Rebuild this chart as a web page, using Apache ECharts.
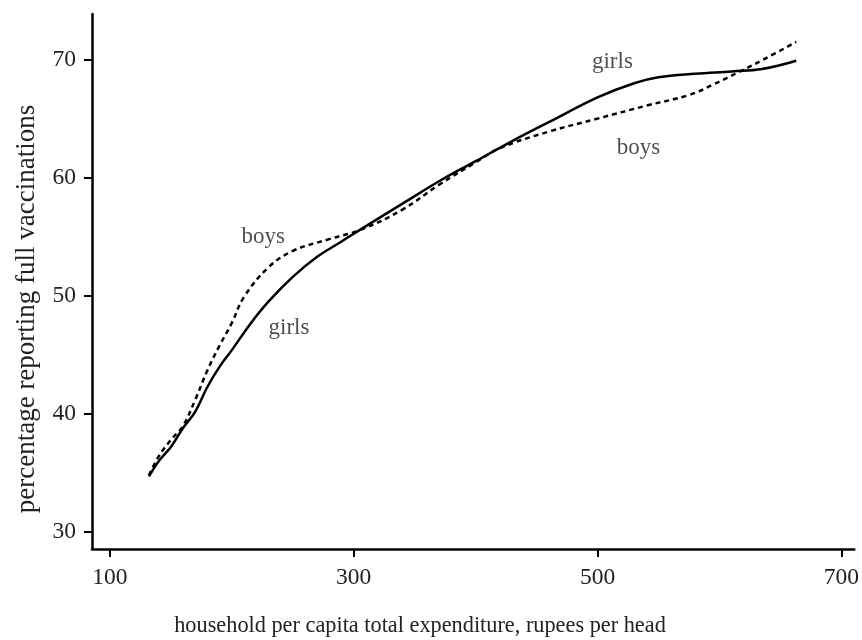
<!DOCTYPE html>
<html>
<head>
<meta charset="utf-8">
<script src="https://cdn.jsdelivr.net/npm/echarts@6/dist/echarts.min.js"></script>
<style>
html,body{margin:0;padding:0;background:#fff;}
#chart{width:862px;height:640px;}
</style>
</head>
<body>
<div id="chart"></div>
<script>
// Data
var girlsX = [132, 140, 150, 160, 170, 180, 190, 200, 215, 230, 250, 270, 290, 310, 340, 370, 400, 430, 460, 500, 530, 550, 580, 610, 635, 663];
var girlsY = [34.7, 36.0, 37.2, 38.8, 40.2, 42.3, 44.0, 45.4, 47.6, 49.5, 51.6, 53.3, 54.6, 55.9, 57.8, 59.7, 61.4, 63.1, 64.7, 66.8, 68.0, 68.5, 68.8, 69.0, 69.2, 69.9];
var boysX = [132, 140, 150, 160, 170, 180, 190, 200, 210, 230, 250, 280, 306, 340, 370, 400, 420, 460, 500, 540, 575, 595, 615, 636, 663];
var boysY = [34.8, 36.4, 37.8, 39.0, 41.2, 43.7, 45.8, 47.7, 49.9, 52.4, 53.8, 54.8, 55.6, 57.3, 59.4, 61.3, 62.5, 63.9, 65.0, 66.1, 67.0, 67.9, 68.9, 70.0, 71.5];
var xTicks = [100, 300, 500, 700];
var yTicks = [30, 40, 50, 60, 70];
var labelNames = ['boys', 'girls', 'girls', 'boys'];
var labelX = [225.7, 246.9, 512.2, 533.5];
var labelY = [55.0, 47.3, 69.8, 62.5];
var xTitle = 'household per capita total expenditure, rupees per head';
var yTitle = 'percentage reporting full vaccinations';

function zip(xs, ys) { return xs.map(function (x, i) { return [x, ys[i]]; }); }

var FONT = '"Liberation Serif", "DejaVu Serif", serif';
var TXT = '#222';

var chart = echarts.init(document.getElementById('chart'), null, {renderer: 'canvas'});
chart.setOption({
  backgroundColor: '#fff',
  animation: false,
  grid: {left: 92, right: 4, top: 14, bottom: 91, containLabel: false},
  xAxis: {
    type: 'value', min: 85.3, max: 710.6,
    splitLine: {show: false},
    axisLine: {show: true, onZero: false, lineStyle: {color: '#000', width: 2.5}},
    axisTick: {show: true, length: 8, lineStyle: {color: '#000', width: 2}, customValues: xTicks},
    axisLabel: {margin: 17, color: TXT, fontFamily: FONT, fontSize: 23.5, customValues: xTicks, showMinLabel: true, showMaxLabel: true}
  },
  yAxis: {
    type: 'value', min: 28.56, max: 73.86,
    splitLine: {show: false},
    axisLine: {show: true, onZero: false, lineStyle: {color: '#000', width: 2.5}},
    axisTick: {show: true, length: 8, lineStyle: {color: '#000', width: 2}, customValues: yTicks},
    axisLabel: {margin: 16, color: TXT, fontFamily: FONT, fontSize: 23.5, customValues: yTicks}
  },
  graphic: [
    {type: 'text', x: 420, y: 615, style: {text: xTitle, fill: TXT, font: '22.3px ' + FONT, align: 'center', verticalAlign: 'top'}},
    {type: 'text', x: 13, y: 309, rotation: Math.PI / 2, style: {text: yTitle, fill: TXT, font: '27px ' + FONT, align: 'center', verticalAlign: 'top'}}
  ],
  series: [
    {
      name: 'girls', type: 'line', data: zip(girlsX, girlsY), smooth: 0.4, showSymbol: false, symbol: 'none',
      lineStyle: {color: '#000', width: 2.5}
    },
    {
      name: 'boys', type: 'line', data: zip(boysX, boysY), smooth: 0.4, showSymbol: false, symbol: 'none',
      lineStyle: {color: '#000', width: 2.5, type: [5, 4]}
    },
    {
      name: 'labels', type: 'scatter', symbolSize: 1, silent: true,
      itemStyle: {color: 'rgba(0,0,0,0)'},
      data: labelNames.map(function (n, i) { return [labelX[i], labelY[i], n]; }),
      label: {show: true, position: 'inside', formatter: function (p) { return p.data[2]; }, color: TXT, fontFamily: FONT, fontSize: 23}
    }
  ]
});
</script>
</body>
</html>
